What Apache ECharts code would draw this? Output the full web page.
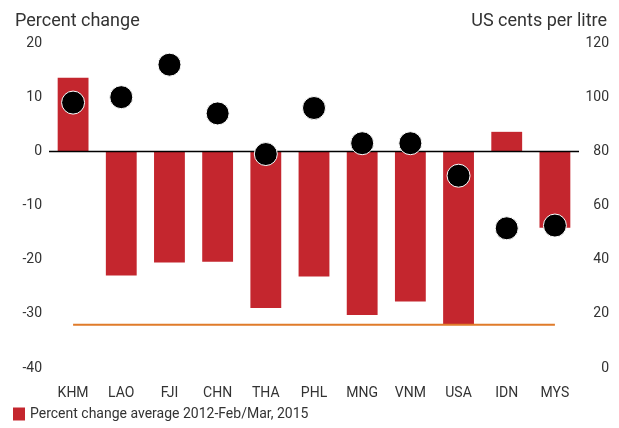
<!DOCTYPE html>
<html>
<head>
<meta charset="utf-8">
<script src="https://cdn.jsdelivr.net/npm/echarts@6/dist/echarts.min.js"></script>
<style>
  html, body { margin: 0; padding: 0; background: #fff; }
  #chart { width: 619px; height: 428px; }
</style>
</head>
<body>
<div id="chart"></div>
<script>
// Economies shown along the x axis
const categories = ['KHM', 'LAO', 'FJI', 'CHN', 'THA', 'PHL', 'MNG', 'VNM', 'USA', 'IDN', 'MYS'];
// Percent change in fuel price, average 2012 to Feb/Mar 2015 (left axis)
const percentChange = [13.6, -22.9, -20.5, -20.4, -28.9, -23.1, -30.2, -27.7, -32.0, 3.6, -14.1];
// Pump price, US cents per litre (right axis)
const centsPerLitre = [98.0, 100.0, 112.0, 94.0, 79.0, 96.0, 83.0, 83.0, 71.0, 51.6, 52.6];
// Reference level drawn across all economies (left axis)
const referenceLevel = [-32, -32, -32, -32, -32, -32, -32, -32, -32, -32, -32];
// Axis ticks
const leftTicks = { min: -40, max: 20, interval: 10 };
const rightTicks = { min: 0, max: 120, interval: 20 };

const font = "'Liberation Sans Narrow', 'Roboto', 'Liberation Sans', sans-serif";
const headFont = "'Roboto', 'Liberation Sans', sans-serif";
const textColor = '#333';
const red = '#c4262e';

const chart = echarts.init(document.getElementById('chart'), null, { renderer: 'canvas' });
chart.setOption({
  animation: false,
  backgroundColor: '#fff',
  textStyle: { fontFamily: font },
  title: [
    { text: 'Percent change', left: 10, top: 7,
      textStyle: { fontFamily: headFont, fontSize: 18, fontWeight: 'normal', color: textColor } },
    { text: 'US cents per litre', right: 7, top: 7,
      textStyle: { fontFamily: headFont, fontSize: 18, fontWeight: 'normal', color: textColor } }
  ],
  legend: {
    left: 8, bottom: 2,
    itemWidth: 12, itemHeight: 13, itemGap: 10,
    data: [{ name: 'Percent change average 2012-Feb/Mar, 2015', icon: 'rect' }],
    textStyle: { fontFamily: headFont, fontSize: 14, color: textColor }
  },
  grid: { left: 49, right: 40, top: 43, bottom: 60, containLabel: false },
  xAxis: {
    type: 'category',
    data: categories,
    axisLine: { show: false },
    axisTick: { show: false },
    axisLabel: { margin: 18, fontSize: 14, color: textColor, fontFamily: font }
  },
  yAxis: [
    {
      type: 'value', min: leftTicks.min, max: leftTicks.max, interval: leftTicks.interval,
      splitLine: { show: false }, axisLine: { show: false }, axisTick: { show: false },
      axisLabel: { margin: 7, fontSize: 14, color: textColor, fontFamily: font }
    },
    {
      type: 'value', position: 'right', min: rightTicks.min, max: rightTicks.max, interval: rightTicks.interval,
      splitLine: { show: false }, axisLine: { show: false }, axisTick: { show: false },
      axisLabel: { margin: 30, align: 'right', fontSize: 14, color: textColor, fontFamily: font }
    }
  ],
  series: [
    {
      name: 'Percent change average 2012-Feb/Mar, 2015',
      type: 'bar',
      yAxisIndex: 0,
      data: percentChange,
      barWidth: '64%',
      itemStyle: { color: red },
      markLine: {
        silent: true, symbol: 'none', label: { show: false },
        lineStyle: { color: '#000', width: 1.3, type: 'solid' },
        data: [{ yAxis: 0 }],
        z: 3
      },
      z: 2
    },
    {
      name: 'Reference level',
      type: 'line',
      yAxisIndex: 0,
      data: referenceLevel,
      symbol: 'none',
      lineStyle: { color: '#e07b2a', width: 2 },
      z: 3
    },
    {
      name: 'US cents per litre',
      type: 'scatter',
      yAxisIndex: 1,
      data: centsPerLitre,
      symbol: 'circle',
      symbolSize: 23,
      itemStyle: { color: '#000', opacity: 1, borderColor: '#fff', borderWidth: 1 },
      z: 5
    }
  ]
});
</script>
</body>
</html>
